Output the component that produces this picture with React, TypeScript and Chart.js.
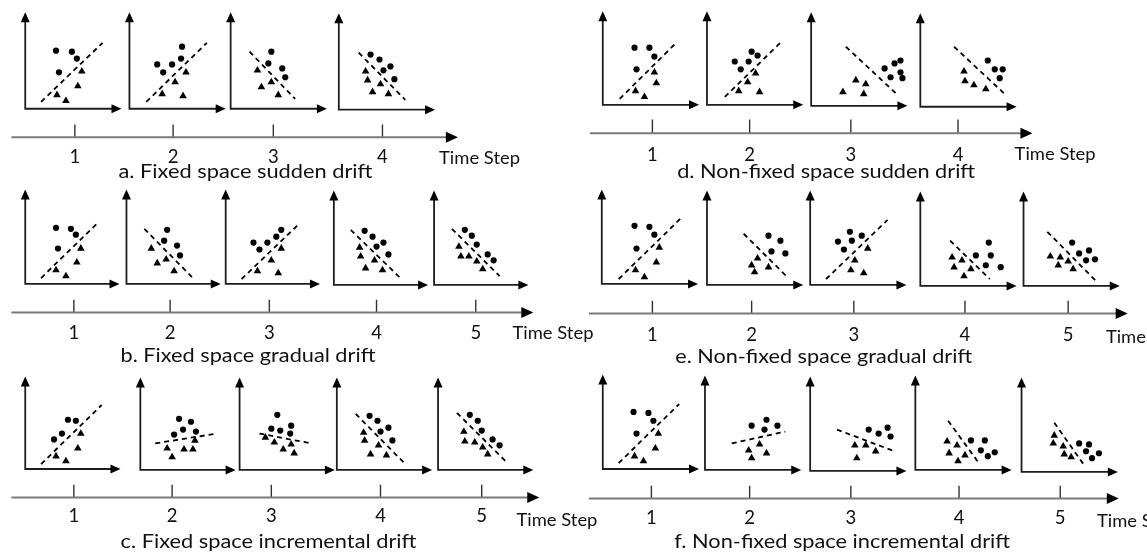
import { useEffect, useRef } from "react";
import { Chart, registerables } from "chart.js";

Chart.register(...registerables);

type Pt = [number, number];

const STEP_LABELS = ["1", "2", "3", "4", "5"];
const TIME_TITLE = "Time Step";

// Sample clouds in each small plot, in local units: x to the right, y upward from the plot corner.
// Circles are one class, triangles the other; the dashed segment is the decision boundary.

// a. fixed space, sudden drift
const A_DOTS: Pt[][] = [
  [[31, 59], [47, 58], [52, 51], [34, 37]],
  [[53, 63], [52, 51], [43, 45], [28, 45], [34, 37]],
  [[41, 58], [38, 46], [52, 41], [55, 32]],
  [[32, 56], [41, 51], [52, 44], [45, 40], [56, 31]],
];
const A_TRIS: Pt[][] = [
  [[57, 38], [53, 23], [32, 14], [41, 8]],
  [[57, 37], [46, 27], [33, 15], [54, 13]],
  [[27, 39], [41, 27], [31, 22], [48, 14]],
  [[27, 39], [29, 30], [42, 26], [34, 18], [50, 16]],
];
const A_BOUNDS: Pt[][] = [
  [[16, 7], [78, 67]],
  [[17, 7], [78, 67]],
  [[19, 58], [65, 10]],
  [[20, 58], [67, 10]],
];

// b. fixed space, gradual drift
const B_DOTS: Pt[][] = [
  [[31, 57], [46, 56], [51, 50], [33, 36]],
  [[41, 55], [38, 44], [51, 39], [54, 29]],
  [[56, 55], [51, 48], [42, 42], [28, 42], [34, 35]],
  [[31, 55], [39, 49], [50, 43], [43, 39], [55, 31]],
  [[31, 56], [38, 50], [43, 41], [54, 31], [60, 25]],
];
const B_TRIS: Pt[][] = [
  [[56, 36], [52, 22], [31, 14], [41, 8]],
  [[25, 36], [40, 25], [31, 21], [48, 13]],
  [[56, 36], [46, 24], [32, 13], [53, 11]],
  [[26, 38], [27, 29], [41, 25], [32, 17], [49, 15]],
  [[25, 39], [27, 29], [35, 29], [43, 24], [49, 16]],
];
const B_BOUNDS: Pt[][] = [
  [[16, 6], [73, 62]],
  [[18, 56], [66, 7]],
  [[16, 5], [74, 61]],
  [[17, 56], [66, 8]],
  [[18, 57], [66, 9]],
];

// c. fixed space, incremental drift
const C_DOTS: Pt[][] = [
  [[43, 50], [51, 49], [37, 36], [29, 30]],
  [[39, 52], [51, 49], [43, 41], [34, 36], [56, 39]],
  [[38, 56], [32, 42], [41, 40], [52, 45], [51, 37]],
  [[33, 55], [41, 50], [52, 43], [44, 39], [56, 30]],
  [[32, 56], [40, 50], [44, 40], [55, 31], [62, 25]],
];
const C_TRIS: Pt[][] = [
  [[56, 36], [53, 21], [31, 13], [41, 8]],
  [[55, 30], [27, 22], [44, 21], [53, 21], [32, 13]],
  [[26, 33], [35, 28], [44, 21], [52, 26], [55, 17]],
  [[27, 38], [28, 30], [42, 25], [34, 16], [50, 15]],
  [[26, 39], [27, 29], [37, 28], [45, 23], [50, 16]],
];
const C_BOUNDS: Pt[][] = [
  [[16, 5], [77, 65]],
  [[15, 27], [77, 37]],
  [[20, 37], [72, 27]],
  [[19, 57], [69, 6]],
  [[19, 58], [70, 7]],
];

// d. non-fixed space, sudden drift
const D_DOTS: Pt[][] = [
  [[32, 58], [47, 58], [52, 49], [34, 36]],
  [[45, 54], [51, 50], [42, 44], [28, 44], [34, 36]],
  [[90, 46], [84, 43], [74, 38], [90, 34], [80, 29], [92, 28]],
  [[68, 47], [75, 38], [83, 38], [80, 29]],
];
const D_TRIS: Pt[][] = [
  [[52, 33], [54, 22], [33, 14], [42, 8]],
  [[49, 32], [41, 23], [32, 14], [53, 13]],
  [[32, 14], [45, 26], [55, 22], [53, 12]],
  [[44, 36], [45, 26], [54, 22], [66, 18]],
];
const D_BOUNDS: Pt[][] = [
  [[17, 6], [75, 64]],
  [[18, 8], [76, 65]],
  [[35, 60], [85, 13]],
  [[34, 61], [85, 13]],
];

// e. non-fixed space, gradual drift
const E_DOTS: Pt[][] = [
  [[33, 59], [48, 58], [53, 50], [35, 36]],
  [[62, 50], [74, 45], [65, 34], [79, 32]],
  [[40, 54], [52, 50], [28, 44], [42, 45], [34, 36]],
  [[69, 44], [71, 31], [56, 31], [66, 21], [81, 19]],
  [[49, 44], [56, 33], [66, 36], [63, 26], [72, 27]],
];
const E_TRIS: Pt[][] = [
  [[58, 37], [55, 22], [34, 14], [43, 7]],
  [[51, 27], [45, 20], [62, 18], [48, 13]],
  [[58, 37], [45, 25], [41, 15], [54, 12]],
  [[32, 29], [42, 26], [51, 17], [34, 19], [44, 10]],
  [[27, 30], [37, 29], [45, 25], [35, 21], [50, 17]],
];
const E_BOUNDS: Pt[][] = [
  [[17, 5], [79, 66]],
  [[37, 52], [80, 9]],
  [[16, 6], [78, 66]],
  [[30, 46], [70, 7]],
  [[24, 55], [75, 3]],
];

// f. non-fixed space, incremental drift
const F_DOTS: Pt[][] = [
  [[31, 58], [46, 57], [51, 49], [34, 36]],
  [[47, 45], [62, 51], [60, 41], [73, 45]],
  [[59, 42], [69, 38], [78, 44], [81, 35]],
  [[56, 30], [70, 30], [66, 20], [80, 18], [73, 14]],
  [[58, 29], [68, 28], [65, 21], [78, 19], [71, 14]],
];
const F_TRIS: Pt[][] = [
  [[56, 36], [53, 21], [32, 13], [41, 8]],
  [[55, 26], [44, 20], [62, 17], [47, 12]],
  [[45, 26], [56, 26], [66, 20], [47, 13]],
  [[32, 29], [42, 25], [50, 15], [34, 17], [43, 9]],
  [[33, 37], [32, 29], [42, 26], [43, 18], [50, 15]],
];
const F_BOUNDS: Pt[][] = [
  [[16, 6], [77, 66]],
  [[27, 27], [81, 39]],
  [[27, 42], [85, 20]],
  [[33, 50], [64, 7]],
  [[33, 50], [63, 7]],
];

const CAPTIONS = [
  "a. Fixed space sudden drift",
  "b. Fixed space gradual drift",
  "c. Fixed space incremental drift",
  "d. Non-fixed space sudden drift",
  "e. Non-fixed space gradual drift",
  "f. Non-fixed space incremental drift",
];

interface Layout {
  origins: Pt[];
  axisW: number;
  axisH: number;
  timeY: number;
  timeX0: number;
  timeX1: number;
  tickX: number[];
  tickTop: number;
  stepBase: number;
  titleX: number;
  titleBase: number;
  capX: number;
  capW: number;
  capBase: number;
}

const LAYOUT_A: Layout = {
  origins: [[21, 106], [126, 106], [228, 106], [337, 107]],
  axisW: 97, axisH: 98, timeY: 135, timeX0: 7, timeX1: 457,
  tickX: [71, 170, 271, 381], tickTop: 122, stepBase: 161,
  titleX: 438, titleBase: 162, capX: 115, capW: 254, capBase: 176,
};
const LAYOUT_B: Layout = {
  origins: [[21, 284], [123, 284], [223, 284], [332, 285], [433, 285]],
  axisW: 95, axisH: 96, timeY: 313, timeX0: 7, timeX1: 533,
  tickX: [70, 167, 267, 375, 475], tickTop: 300, stepBase: 340,
  titleX: 512, titleBase: 340, capX: 117, capW: 255, capBase: 363,
};
const LAYOUT_C: Layout = {
  origins: [[21, 472], [137, 473], [237, 473], [335, 473], [437, 473]],
  axisW: 96, axisH: 94, timeY: 501, timeX0: 7, timeX1: 539,
  tickX: [70, 169, 269, 379, 481], tickTop: 488, stepBase: 526,
  titleX: 516, titleBase: 530, capX: 117, capW: 296, capBase: 552,
};
const LAYOUT_D: Layout = {
  origins: [[603, 102], [708, 102], [813, 103], [923, 104]],
  axisW: 97, axisH: 95, timeY: 131, timeX0: 590, timeX1: 1036,
  tickX: [653, 751, 853, 961], tickTop: 117, stepBase: 159,
  titleX: 1018, titleBase: 158, capX: 678, capW: 298, capBase: 176,
};
const LAYOUT_E: Layout = {
  origins: [[602, 284], [708, 285], [812, 285], [923, 286], [1027, 286]],
  axisW: 97, axisH: 96, timeY: 314, timeX0: 589, timeX1: 1132,
  tickX: [653, 753, 856, 968, 1072], tickTop: 301, stepBase: 342,
  titleX: 1110, titleBase: 344, capX: 676, capW: 297, capBase: 364,
};
const LAYOUT_F: Layout = {
  origins: [[603, 472], [706, 473], [812, 474], [918, 473], [1025, 475]],
  axisW: 97, axisH: 96, timeY: 502, timeX0: 589, timeX1: 1123,
  tickX: [652, 751, 853, 962, 1064], tickTop: 489, stepBase: 528,
  titleX: 1101, titleBase: 531, capX: 675, capW: 336, capBase: 552,
};

const PANELS = [
  { caption: CAPTIONS[0], dots: A_DOTS, tris: A_TRIS, bounds: A_BOUNDS, layout: LAYOUT_A },
  { caption: CAPTIONS[1], dots: B_DOTS, tris: B_TRIS, bounds: B_BOUNDS, layout: LAYOUT_B },
  { caption: CAPTIONS[2], dots: C_DOTS, tris: C_TRIS, bounds: C_BOUNDS, layout: LAYOUT_C },
  { caption: CAPTIONS[3], dots: D_DOTS, tris: D_TRIS, bounds: D_BOUNDS, layout: LAYOUT_D },
  { caption: CAPTIONS[4], dots: E_DOTS, tris: E_TRIS, bounds: E_BOUNDS, layout: LAYOUT_E },
  { caption: CAPTIONS[5], dots: F_DOTS, tris: F_TRIS, bounds: F_BOUNDS, layout: LAYOUT_F },
];

const W = 1147;
const H = 560;
const INK = "#000000";
const AXIS_INK = "#1e1e1e";
const TIME_INK = "#7a7a7a";
const FONT = 'Lato, "Open Sans", "DejaVu Sans", sans-serif';
const MINI_ARROW = { len: 10, half: 4.5 };
const TIME_ARROW = { len: 12, half: 5.5 };

// local plot coordinates -> page coordinates (y grows downward on the page scale)
const toPage = (o: Pt, p: Pt) => ({ x: o[0] + p[0], y: o[1] - p[1] });

function buildDatasets() {
  const sets: any[] = [];
  PANELS.forEach((panel) => {
    const L = panel.layout;
    L.origins.forEach((o, i) => {
      // L-shaped axes, stopping just short of the arrow tips
      sets.push({
        data: [
          { x: o[0], y: o[1] - L.axisH + 4 },
          { x: o[0], y: o[1] },
          { x: o[0] + L.axisW - 4, y: o[1] },
        ],
        showLine: true,
        borderColor: AXIS_INK,
        borderWidth: 1.8,
        pointRadius: 0,
        borderCapStyle: "butt",
        borderJoinStyle: "miter",
      });
      sets.push({
        data: panel.bounds[i].map((p) => toPage(o, p)),
        showLine: true,
        borderColor: INK,
        borderWidth: 1.8,
        borderDash: [5, 4],
        pointRadius: 0,
      });
      sets.push({
        data: panel.dots[i].map((p) => toPage(o, p)),
        pointStyle: "circle",
        pointRadius: 3.1,
        backgroundColor: INK,
        borderWidth: 0,
      });
      sets.push({
        data: panel.tris[i].map((p) => toPage(o, p)),
        pointStyle: "triangle",
        pointRadius: 4.4,
        backgroundColor: INK,
        borderWidth: 0,
      });
    });
    // time axis line and its step ticks
    sets.push({
      data: [
        { x: L.timeX0, y: L.timeY },
        { x: L.timeX1 - 4, y: L.timeY },
      ],
      showLine: true,
      borderColor: TIME_INK,
      borderWidth: 2,
      pointRadius: 0,
    });
    L.tickX.forEach((tx) => {
      sets.push({
        data: [
          { x: tx, y: L.tickTop },
          { x: tx, y: L.timeY },
        ],
        showLine: true,
        borderColor: "#333333",
        borderWidth: 1.4,
        pointRadius: 0,
      });
    });
  });
  return sets;
}

function fillFitted(ctx: CanvasRenderingContext2D, text: string, x: number, y: number, width: number) {
  const m = ctx.measureText(text).width;
  ctx.save();
  ctx.translate(x, y);
  ctx.scale(width / m, 1);
  ctx.textAlign = "left";
  ctx.fillText(text, 0, 0);
  ctx.restore();
}

const decorPlugin = {
  id: "driftDecor",
  afterDatasetsDraw(chart: any) {
    const { ctx, scales } = chart;
    const px = (v: number) => scales.x.getPixelForValue(v);
    const py = (v: number) => scales.y.getPixelForValue(v);

    const arrowUp = (x: number, y: number, a: { len: number; half: number }) => {
      ctx.beginPath();
      ctx.moveTo(x, y);
      ctx.lineTo(x - a.half, y + a.len);
      ctx.lineTo(x + a.half, y + a.len);
      ctx.closePath();
      ctx.fill();
    };
    const arrowRight = (x: number, y: number, a: { len: number; half: number }) => {
      ctx.beginPath();
      ctx.moveTo(x, y);
      ctx.lineTo(x - a.len, y - a.half);
      ctx.lineTo(x - a.len, y + a.half);
      ctx.closePath();
      ctx.fill();
    };

    ctx.save();
    ctx.fillStyle = INK;
    PANELS.forEach((panel) => {
      const L = panel.layout;
      L.origins.forEach((o) => {
        arrowUp(px(o[0]), py(o[1] - L.axisH), MINI_ARROW);
        arrowRight(px(o[0] + L.axisW), py(o[1]), MINI_ARROW);
      });
      arrowRight(px(L.timeX1), py(L.timeY), TIME_ARROW);

      ctx.fillStyle = "#111111";
      ctx.textBaseline = "alphabetic";
      ctx.font = `18.5px ${FONT}`;
      ctx.textAlign = "center";
      L.tickX.forEach((tx, i) => {
        ctx.fillText(STEP_LABELS[i], px(tx), py(L.stepBase));
      });
      ctx.font = `17px ${FONT}`;
      fillFitted(ctx, TIME_TITLE, px(L.titleX), py(L.titleBase), 81);
      ctx.font = `19.5px ${FONT}`;
      fillFitted(ctx, panel.caption, px(L.capX), py(L.capBase), L.capW);
      ctx.fillStyle = INK;
    });
    ctx.restore();
  },
};

export default function App() {
  const canvasRef = useRef<HTMLCanvasElement | null>(null);

  useEffect(() => {
    document.body.style.margin = "0";
    const canvas = canvasRef.current;
    if (!canvas) return;
    const chart = new Chart(canvas, {
      type: "scatter",
      data: { datasets: buildDatasets() },
      options: {
        responsive: false,
        animation: false,
        events: [],
        layout: { padding: 0 },
        plugins: { legend: { display: false }, tooltip: { enabled: false } },
        scales: {
          x: { type: "linear", min: 0, max: W, display: false },
          y: { type: "linear", min: 0, max: H, reverse: true, display: false },
        },
      },
      plugins: [decorPlugin],
    });
    return () => chart.destroy();
  }, []);

  return (
    <div style={{ width: W, height: H, background: "#ffffff", overflow: "hidden" }}>
      <canvas ref={canvasRef} width={W} height={H} style={{ display: "block" }} />
    </div>
  );
}
